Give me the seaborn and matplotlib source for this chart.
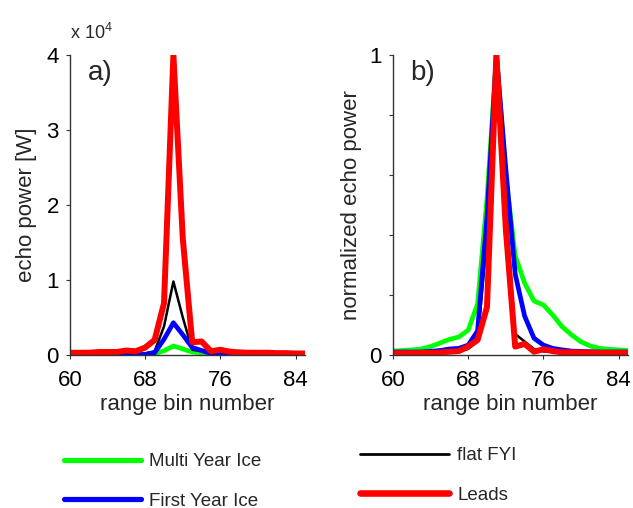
import matplotlib
matplotlib.use("Agg")
import matplotlib.pyplot as plt
from matplotlib.lines import Line2D
import seaborn as sns
import pandas as pd

sns.set_style("ticks")
plt.rcParams["font.family"] = ["Liberation Sans", "DejaVu Sans"]
plt.rcParams["mathtext.fontset"] = "custom"
plt.rcParams["mathtext.rm"] = "Liberation Sans"
plt.rcParams["mathtext.default"] = "regular"

FS = 16
LEG_FS = 13.5
W, H = 633, 508

# range bins 60..85
BINS = list(range(60, 86))

# a) echo power, units of 1e4 W
green_raw = [0.0, 0.0, 0.0, 0.0, 0.0, 0.0, 0.0, 0.002, 0.005, 0.02, 0.055, 0.12, 0.08, 0.04,
             0.03, 0.02, 0.02, 0.016, 0.011, 0.008, 0.005, 0.004, 0.003, 0.002, 0.002, 0.002]
blue_raw = [0.0, 0.0, 0.0, 0.0, 0.0, 0.0, 0.0, 0.0, 0.01, 0.03, 0.21, 0.43, 0.27, 0.10,
            0.06, 0.02, 0.01, 0.005, 0.005, 0.0, 0.0, 0.0, 0.0, 0.0, 0.0, 0.0]
black_raw = [0.01, 0.01, 0.01, 0.01, 0.01, 0.01, 0.01, 0.01, 0.02, 0.05, 0.38, 0.98, 0.50, 0.07,
             0.05, 0.02, 0.01, 0.01, 0.01, 0.01, 0.01, 0.01, 0.01, 0.01, 0.01, 0.01]
red_raw = [0.03, 0.03, 0.03, 0.04, 0.04, 0.04, 0.06, 0.05, 0.10, 0.20, 0.69, 4.0, 1.55, 0.17,
           0.18, 0.05, 0.07, 0.045, 0.035, 0.03, 0.03, 0.03, 0.025, 0.025, 0.02, 0.02]

# b) normalized echo power
green_norm = [0.013, 0.015, 0.017, 0.020, 0.028, 0.040, 0.052, 0.060, 0.083, 0.17, 0.52, 1.0, 0.60,
              0.33, 0.24, 0.18, 0.167, 0.133, 0.094, 0.067, 0.044, 0.030, 0.022, 0.019, 0.017, 0.015]
blue_norm = [0.010, 0.010, 0.010, 0.010, 0.012, 0.015, 0.020, 0.022, 0.033, 0.08, 0.46, 1.0, 0.62,
             0.27, 0.13, 0.056, 0.033, 0.022, 0.017, 0.013, 0.012, 0.011, 0.010, 0.010, 0.010, 0.010]
black_norm = [0.01, 0.01, 0.01, 0.01, 0.01, 0.01, 0.01, 0.012, 0.02, 0.05, 0.39, 1.0, 0.50,
              0.07, 0.045, 0.02, 0.012, 0.01, 0.01, 0.01, 0.01, 0.01, 0.01, 0.01, 0.01, 0.01]
red_norm = [0.006, 0.006, 0.006, 0.007, 0.007, 0.008, 0.011, 0.013, 0.028, 0.05, 0.16, 1.0, 0.42,
            0.028, 0.037, 0.011, 0.019, 0.013, 0.009, 0.009, 0.008, 0.008, 0.007, 0.007, 0.007, 0.007]

LABELS = ["Multi Year Ice", "First Year Ice", "flat FYI", "Leads"]
COLORS = ["#00ff00", "#0000ff", "#000000", "#ff0000"]
WIDTHS = [3.4, 3.4, 1.8, 4.3]

raw = pd.DataFrame({"bin": BINS, LABELS[0]: green_raw, LABELS[1]: blue_raw,
                    LABELS[2]: black_raw, LABELS[3]: red_raw})
norm = pd.DataFrame({"bin": BINS, LABELS[0]: green_norm, LABELS[1]: blue_norm,
                     LABELS[2]: black_norm, LABELS[3]: red_norm})

fig = plt.figure(figsize=(W / 100, H / 100), dpi=100)
ax1 = fig.add_axes([70 / W, 1 - 355 / H, 235 / W, 300 / H])
ax2 = fig.add_axes([393 / W, 1 - 355 / H, 235 / W, 300 / H])

draw_order = [0, 2, 1, 3]
for ax, df in [(ax1, raw), (ax2, norm)]:
    for i in draw_order:
        sns.lineplot(data=df, x="bin", y=LABELS[i], color=COLORS[i], linewidth=WIDTHS[i],
                     ax=ax, legend=False)
    ax.set_xlim(60, 85)
    ax.set_xticks([60, 68, 76, 84])
    ax.set_xlabel("range bin number", fontsize=FS, labelpad=2)
    sns.despine(ax=ax)
    for s in ["left", "bottom"]:
        ax.spines[s].set_color("#333333")
        ax.spines[s].set_linewidth(1.0)
    ax.tick_params(direction="out", length=3, width=0.8, color="#333333",
                   labelsize=FS, labelcolor="black")
    ax.tick_params(axis="x", pad=8)
    ax.tick_params(axis="y", pad=5)

ax1.set_ylim(0, 4)
ax1.set_yticks([0, 1, 2, 3, 4])
ax1.set_ylabel("echo power [W]", fontsize=FS, labelpad=7)
ax1.text(0.075, 0.94, "a)", transform=ax1.transAxes, fontsize=20, va="center")
fig.text(70 / W, 1 - 33 / H, "x 10$^4$", fontsize=13, ha="left", va="center")

ax2.set_ylim(0, 1)
ax2.set_yticks([0, 0.2, 0.4, 0.6, 0.8, 1.0])
ax2.set_yticklabels(["0", "", "", "", "", "1"])
ax2.set_ylabel("normalized echo power", fontsize=FS, labelpad=5)
ax2.text(0.075, 0.94, "b)", transform=ax2.transAxes, fontsize=20, va="center")

handles = [Line2D([], [], color=c, linewidth=w * 1.1) for c, w in zip(COLORS, WIDTHS)]
leg_kw = dict(frameon=False, fontsize=LEG_FS, borderpad=0, borderaxespad=0,
              handletextpad=0.43, labelspacing=1.2, loc="upper left")
fig.legend(handles[:2], LABELS[:2], bbox_to_anchor=(64 / W, 1 - 453 / H),
           handlelength=4.1, **leg_kw)
fig.legend(handles[2:], LABELS[2:], bbox_to_anchor=(360 / W, 1 - 447 / H),
           handlelength=4.75, **leg_kw)

fig.savefig("out.png", dpi=100)
